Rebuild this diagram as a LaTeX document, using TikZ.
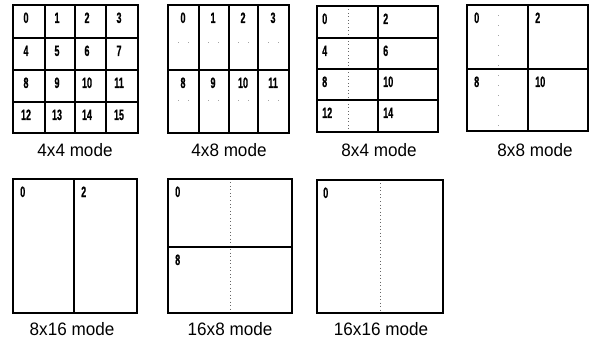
\documentclass[tikz,border=0pt]{standalone}
\usepackage{fontspec}
\setmainfont{Liberation Sans}
\newfontfamily\labfont[FakeStretch=0.95]{Liberation Sans}
\newfontfamily\numfont[FakeStretch=0.6,FakeBold=0.6]{Liberation Sans Bold}
\begin{document}
\begin{tikzpicture}[x=1pt,y=-1pt,
  outer/.style={line width=2.6pt,line join=miter},
  inner/.style={line width=1.2pt},
  dots/.style={line width=0.7pt,black!60,dash pattern=on 1pt off 2.5pt},
  faint/.style={line width=0.6pt,black!35,dash pattern=on 1pt off 9pt},
  num/.style={inner sep=0pt,font=\numfont\fontsize{15}{16}\selectfont},
  lab/.style={inner sep=0pt,anchor=base,font=\labfont\fontsize{18}{20}\selectfont}]
\useasboundingbox (0,0) rectangle (592,342);

% ---------- 4x4 mode ----------
\foreach \x in {45,75,106} \draw[inner] (\x,5) -- (\x,133);
\foreach \y in {38,70,102} \draw[inner] (13,\y) -- (138,\y);
\draw[outer] (13,5) rectangle (138,133);
\foreach \n/\x/\y in {0/26/5,1/57/5,2/87/5,3/119/5,
                      4/26/38,5/57/38,6/87/38,7/119/38,
                      8/26/70,9/57/70,10/87/70,11/119/70,
                      12/26/102,13/57/102,14/87/102,15/119/102}
  \node[num,anchor=base] (a\n) at (\x,\y+18) {\n};
\node[lab] (la) at (75,157) {4x4 mode};

% ---------- 4x8 mode ----------
\foreach \y in {42,100} \draw[faint] (168,\y) -- (289,\y);
\foreach \x in {199,229,258} \draw[inner] (\x,5) -- (\x,133);
\draw[inner] (168,70) -- (289,70);
\draw[outer] (168,5) rectangle (289,133);
\foreach \n/\x/\y in {0/183/5,1/213/5,2/243/5,3/273/5,
                      8/183/70,9/213/70,10/243/70,11/273/70}
  \node[num,anchor=base] (b\n) at (\x,\y+18) {\n};
\node[lab] (lb) at (229,157) {4x8 mode};

% ---------- 8x4 mode ----------
\draw[dots] (348,6) -- (348,132);
\draw[inner] (378,6) -- (378,132);
\foreach \y in {38,69,100} \draw[inner] (317,\y) -- (438,\y);
\draw[outer] (317,6) rectangle (438,132);
\foreach \n/\x/\y in {0/322/6,2/383/6,4/322/38,6/383/38,
                      8/322/69,10/383/69,12/322/100,14/383/100}
  \node[num,anchor=base west] (c\n) at (\x,\y+18) {\n};
\node[lab] (lc) at (379,157) {8x4 mode};

% ---------- 8x8 mode ----------
\draw[faint] (498,5) -- (498,131);
\draw[inner] (528,5) -- (528,131);
\draw[inner] (467,69) -- (588,69);
\draw[outer] (467,5) rectangle (588,131);
\foreach \n/\x/\y in {0/474/5,2/535/5,8/474/69,10/535/69}
  \node[num,anchor=base west] (d\n) at (\x,\y+18) {\n};
\node[lab] (ld) at (535,157) {8x8 mode};

% ---------- 8x16 mode ----------
\draw[inner] (74,179) -- (74,313);
\draw[outer] (13,179) rectangle (137,313);
\foreach \n/\x in {0/20,2/81}
  \node[num,anchor=base west] (e\n) at (\x,197) {\n};
\node[lab] (le) at (72,335) {8x16 mode};

% ---------- 16x8 mode ----------
\draw[dots] (230,179) -- (230,313);
\draw[inner] (168,247) -- (292,247);
\draw[outer] (168,179) rectangle (292,313);
\foreach \n/\y in {0/179,8/247}
  \node[num,anchor=base west] (f\n) at (175,\y+18) {\n};
\node[lab] (lf) at (230,335) {16x8 mode};

% ---------- 16x16 mode ----------
\draw[dots] (380,180) -- (380,313);
\draw[outer] (317,180) rectangle (443,313);
\node[num,anchor=base west] (g0) at (323,198) {0};
\node[lab] (lg) at (381,335) {16x16 mode};
\end{tikzpicture}
\end{document}
